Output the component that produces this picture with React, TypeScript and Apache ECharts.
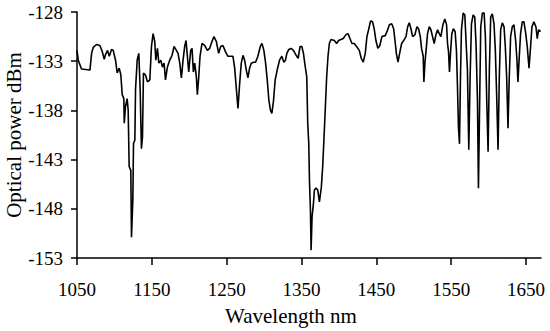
import React, { useEffect, useRef } from "react";
import * as echarts from "echarts";

const wavelengths: number[] = [
  1050, 1051.7, 1056, 1067.3, 1069.5, 1071.7, 1076, 1080.6, 1083.7, 1086.4,
  1088.2, 1090.8, 1093.1, 1096.2, 1098.4, 1101.5, 1103.7, 1106.4, 1108.6, 1110.4,
  1112.6, 1113.1, 1114.8, 1117, 1118.4, 1119.7, 1121.9, 1122.8, 1124.6, 1125.5,
  1127.3, 1128.2, 1130.4, 1132.6, 1134.4, 1136.1, 1137.5, 1138.8, 1141.5, 1144.2,
  1147.3, 1149.5, 1151.7, 1153.9, 1155.3, 1157.5, 1159.3, 1162, 1164.2, 1166.4,
  1168.2, 1170.8, 1173.9, 1177, 1179.7, 1182.8, 1185, 1187.3, 1189.5, 1191.7,
  1193.9, 1195.7, 1197.5, 1199.3, 1201.9, 1203.7, 1205.5, 1207.3, 1209.5, 1210.8,
  1212.6, 1214.4, 1217, 1220.6, 1224.2, 1227.2, 1230.4, 1233, 1236.2, 1239.3,
  1242, 1245, 1248.2, 1251.7, 1254, 1258.4, 1260.7, 1262.9, 1265.1, 1267.3,
  1269.5, 1271.8, 1274, 1276.2, 1278.4, 1280.6, 1282.9, 1286, 1288.6, 1291.7,
  1294.9, 1297.1, 1299.7, 1302, 1304.2, 1306.4, 1308.6, 1310.4, 1312.6, 1314.8,
  1317.5, 1320.6, 1323.7, 1326.4, 1328.6, 1330.4, 1333, 1336.1, 1339.2, 1342.8,
  1345.5, 1348.1, 1350.4, 1352.6, 1354.3, 1357, 1358.3, 1359.7, 1360.6, 1361.9,
  1362.8, 1364.1, 1365.9, 1367.2, 1369.4, 1371.7, 1373.9, 1376.5, 1378.3, 1380.1,
  1381.9, 1383.6, 1385.4, 1387.2, 1389.4, 1393.9, 1397, 1399.6, 1402.7, 1405.8,
  1409.4, 1412.1, 1414.7, 1417.4, 1420.5, 1423.6, 1427.2, 1429.8, 1432.5, 1435.2,
  1437.4, 1439.6, 1442.3, 1445, 1447.1, 1449.4, 1452, 1454.7, 1457.4, 1461.8,
  1464.2, 1467.4, 1470.5, 1473.1, 1474.9, 1476.7, 1478.9, 1481.1, 1483.8, 1486.5,
  1489.6, 1491.8, 1494, 1496.2, 1498.5, 1501.6, 1504.2, 1506.4, 1508.7, 1510.4,
  1512.6, 1513.5, 1514.9, 1516.7, 1518.4, 1520.7, 1522.9, 1525.1, 1527.3, 1529.6,
  1531.8, 1534, 1536.2, 1538.9, 1541.5, 1543.8, 1545.1, 1546.4, 1547.7, 1549.1,
  1550.8, 1553, 1555.3, 1557, 1558.4, 1559.7, 1561.1, 1562.4, 1563.7, 1566,
  1568.2, 1570, 1571.7, 1573.5, 1575.3, 1577.1, 1579.3, 1581.5, 1583.3, 1585.1,
  1586.4, 1588.2, 1589.5, 1591.7, 1594, 1595.7, 1597.5, 1599.3, 1601, 1602.8,
  1605, 1607.2, 1609, 1610.8, 1612.6, 1614.3, 1616.1, 1618.3, 1620.6, 1622.3,
  1624.1, 1625.9, 1627.6, 1629.4, 1631.6, 1633.9, 1636.1, 1637.9, 1639.2, 1641,
  1642.7, 1645, 1647.2, 1649.6, 1651.6, 1654, 1656.1, 1657.9, 1660.5, 1663.2,
  1665, 1666.8, 1669.4,
];

const powers: number[] = [
  -131.9, -132.9, -133.8, -133.9, -132.2, -131.6, -131.3, -131.4, -132.0, -132.8,
  -132.3, -131.9, -132.5, -131.8, -131.9, -132.9, -134.2, -133.7, -134.4, -136.4,
  -136.8, -139.3, -137.6, -136.8, -138.0, -143.7, -144.1, -150.9, -147.1, -141.4,
  -141.0, -135.9, -132.9, -132.2, -135.9, -141.9, -140.7, -134.2, -134.4, -135.1,
  -134.9, -131.5, -130.2, -131.0, -132.9, -131.7, -133.2, -132.9, -133.6, -133.2,
  -134.9, -133.6, -132.9, -132.4, -131.5, -131.9, -132.2, -133.2, -134.7, -132.9,
  -131.5, -130.9, -132.5, -134.1, -131.9, -131.7, -134.1, -133.2, -134.6, -136.4,
  -134.7, -132.5, -131.2, -131.4, -131.9, -131.7, -131.0, -130.5, -131.0, -132.2,
  -131.5, -131.4, -132.0, -132.5, -132.5, -132.5, -133.7, -135.8, -137.8, -135.3,
  -133.2, -132.4, -132.9, -133.9, -134.7, -133.7, -133.2, -133.1, -133.1, -132.5,
  -131.5, -131.2, -131.9, -133.2, -134.9, -137.0, -138.0, -138.3, -137.0, -134.9,
  -133.9, -132.9, -132.5, -133.1, -132.9, -132.2, -131.8, -131.7, -131.9, -132.4,
  -132.7, -131.5, -131.5, -132.2, -133.2, -134.6, -139.3, -141.4, -145.1, -148.1,
  -152.2, -148.8, -147.5, -146.1, -145.9, -146.1, -147.3, -145.8, -143.7, -140.7,
  -137.6, -134.6, -132.5, -131.2, -130.8, -130.9, -131.2, -130.9, -130.8, -130.7,
  -130.3, -130.2, -130.7, -131.2, -131.2, -131.5, -131.9, -132.7, -133.1, -132.2,
  -130.5, -129.8, -128.9, -129.0, -129.7, -130.9, -131.7, -131.4, -130.5, -130.4,
  -130.0, -129.3, -129.2, -129.7, -130.9, -132.2, -133.1, -132.2, -131.2, -130.9,
  -130.5, -129.5, -129.1, -129.7, -130.5, -130.3, -129.5, -129.7, -130.5, -131.7,
  -132.5, -135.1, -133.2, -131.7, -130.2, -129.5, -129.8, -130.5, -131.2, -130.3,
  -129.8, -130.2, -130.5, -129.3, -128.7, -129.3, -131.2, -132.0, -134.1, -132.2,
  -130.2, -129.7, -130.0, -131.9, -135.6, -139.7, -141.4, -134.6, -129.8, -128.1,
  -128.3, -131.2, -133.9, -142.0, -134.6, -129.2, -128.3, -128.5, -131.5, -137.0,
  -145.9, -136.3, -129.5, -128.1, -128.1, -130.5, -137.0, -142.2, -133.9, -128.5,
  -128.2, -129.2, -131.9, -136.6, -142.0, -134.6, -129.8, -129.1, -129.5, -131.5,
  -134.6, -139.8, -134.6, -130.5, -129.5, -129.3, -130.9, -132.9, -135.1, -132.5,
  -130.2, -129.0, -129.0, -130.2, -131.5, -133.7, -131.5, -129.5, -129.0, -129.5,
  -130.7, -129.8, -130.0,
];

const xTickValues: number[] = [1050, 1150, 1250, 1350, 1450, 1550, 1650];
const yTickValues: number[] = [-153, -148, -143, -138, -133, -128];

const FONT = '"Liberation Serif", "Times New Roman", serif';

export default function App() {
  const ref = useRef<HTMLDivElement>(null);

  useEffect(() => {
    if (!ref.current) return;
    const chart = echarts.init(ref.current, undefined, { renderer: "svg" });
    const data = wavelengths.map((w, i) => [w, powers[i]]);
    chart.setOption({
      animation: false,
      backgroundColor: "#ffffff",
      grid: {
        left: 77,
        right: 9,
        top: 12,
        bottom: 73,
        containLabel: false,
        outerBoundsMode: "none",
      },
      xAxis: {
        type: "value",
        min: 1050,
        max: 1670,
        name: "Wavelength nm",
        nameLocation: "middle",
        nameGap: 47,
        nameMoveOverlap: false,
        nameTextStyle: {
          fontFamily: FONT,
          fontSize: 21,
          color: "#000",
          padding: [0, 36, 0, 0],
        },
        axisLine: { show: true, lineStyle: { color: "#000", width: 1.5 } },
        axisTick: {
          show: true,
          inside: false,
          length: 7,
          lineStyle: { color: "#000", width: 1.5 },
          customValues: xTickValues,
        },
        axisLabel: {
          fontFamily: FONT,
          fontSize: 19,
          color: "#000",
          margin: 22,
          customValues: xTickValues,
          formatter: (v: number) => String(v),
        },
        splitLine: { show: false },
      },
      yAxis: {
        type: "value",
        min: -153,
        max: -128,
        name: "Optical power dBm",
        nameLocation: "middle",
        nameGap: 53,
        nameMoveOverlap: false,
        nameTextStyle: { fontFamily: FONT, fontSize: 21, color: "#000" },
        axisLine: { show: true, lineStyle: { color: "#000", width: 1.5 } },
        axisTick: {
          show: true,
          inside: false,
          length: 6,
          lineStyle: { color: "#000", width: 1.5 },
          customValues: yTickValues,
        },
        axisLabel: {
          fontFamily: FONT,
          fontSize: 19,
          color: "#000",
          margin: 14,
          customValues: yTickValues,
          formatter: (v: number) => String(v),
        },
        splitLine: { show: false },
      },
      series: [
        {
          type: "line",
          data,
          showSymbol: false,
          symbol: "none",
          lineStyle: { color: "#000", width: 1.6 },
        },
      ],
    });
    return () => chart.dispose();
  }, []);

  return (
    <div
      ref={ref}
      style={{ position: "fixed", left: 0, top: 0, width: 550, height: 331 }}
    />
  );
}
